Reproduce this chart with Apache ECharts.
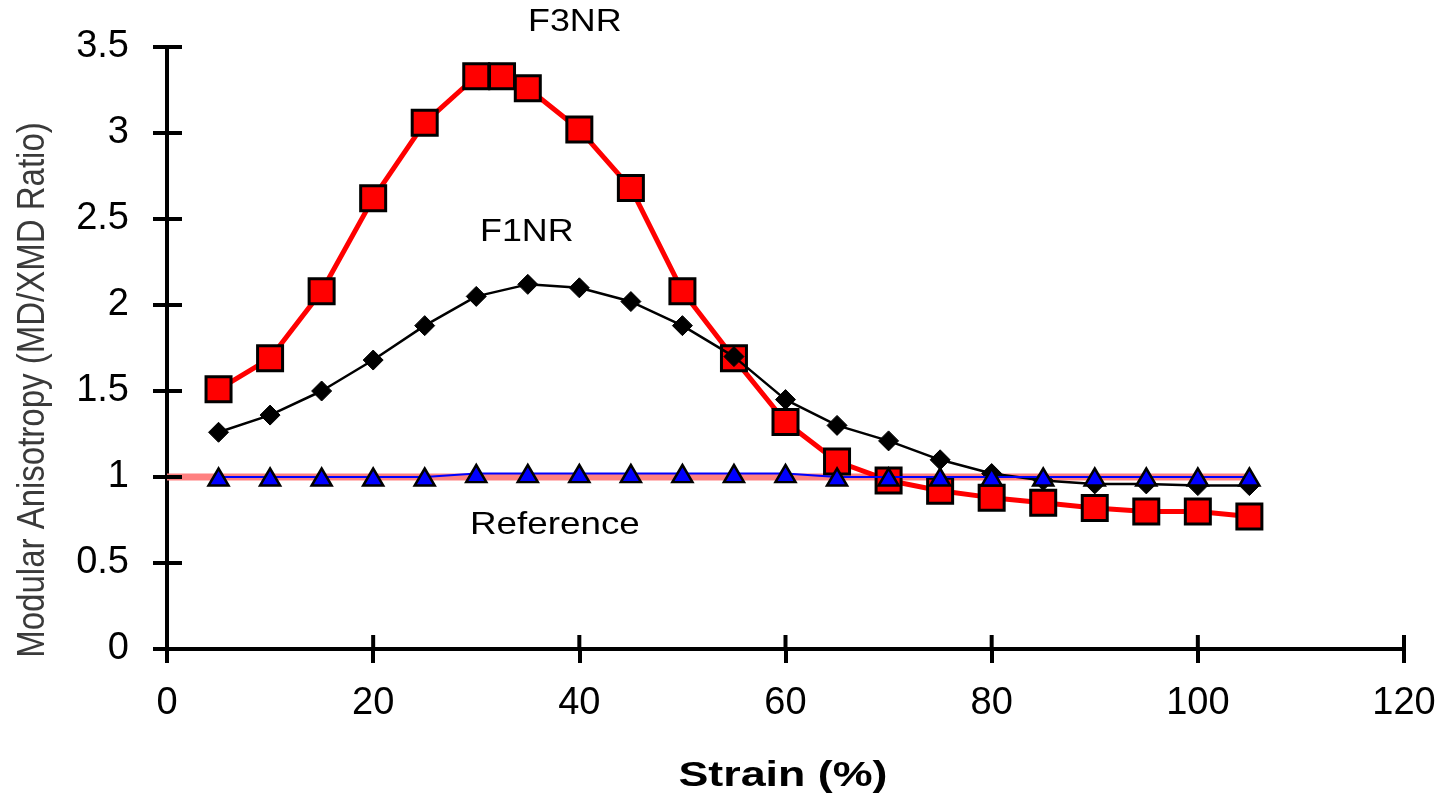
<!DOCTYPE html>
<html><head><meta charset="utf-8">
<script src="https://cdn.jsdelivr.net/npm/echarts@6/dist/echarts.min.js"></script>
<style>html,body{margin:0;padding:0;background:#fff}#c{width:1447px;height:797px}</style>
</head><body><div id="c"></div>
<script>
const strain = [5,10,15,20,25,30,32.5,35,40,45,50,55,60,65,70,75,80,85,90,95,100,105];
const f3nr = [1.51,1.69,2.08,2.62,3.06,3.33,3.33,3.26,3.02,2.68,2.08,1.69,1.32,1.09,0.98,0.92,0.88,0.85,0.82,0.80,0.80,0.77];
const strain2 = [5,10,15,20,25,30,35,40,45,50,55,60,65,70,75,80,85,90,95,100,105];
const f1nr = [1.26,1.36,1.50,1.68,1.88,2.05,2.12,2.10,2.02,1.88,1.70,1.45,1.30,1.21,1.10,1.02,0.98,0.96,0.96,0.95,0.95];
const baseline = [1.00,1.00,1.00,1.00,1.00,1.02,1.02,1.02,1.02,1.02,1.02,1.02,1.00,1.00,1.00,1.00,1.00,1.00,1.00,1.00,1.00];
const refX = [0,105];
const refY = [1,1];
const xTicks = [0,20,40,60,80,100,120];
const yTicks = [0,0.5,1,1.5,2,2.5,3,3.5];
const seriesNames = ['F3NR','F1NR','Reference'];
const xTitle = 'Strain (%)';
const yTitle = 'Modular Anisotropy (MD/XMD Ratio)';

const pairs = (xs, ys) => xs.map((x,i)=>[x, ys[i]]);
const font = 'Liberation Sans, Arial, sans-serif';
const chart = echarts.init(document.getElementById('c'));
const axBase = {
  type:'value', splitLine:{show:false},
  axisLine:{show:true, onZero:false, lineStyle:{color:'#000', width:4}},
  axisTick:{show:true, length:14, lineStyle:{color:'#000', width:4}}
};
chart.setOption({
  animation:false,
  grid:{left:167, top:47, right:43, bottom:148, containLabel:false},
  xAxis:Object.assign({}, axBase, {min:0, max:120, interval:20,
      axisLabel:{fontFamily:font, fontSize:38, color:'#000', margin:36,
        formatter:v=>xTicks.includes(v)?String(v):''}}),
  yAxis:Object.assign({}, axBase, {min:0, max:3.5, interval:0.5,
      axisLabel:{fontFamily:font, fontSize:38, color:'#000', margin:38,
        formatter:v=>yTicks.includes(v)?String(v):''}}),
  series:[
    {name:seriesNames[2], type:'line', data:pairs(refX, refY), showSymbol:false, symbol:'none',
      lineStyle:{color:'#FF8080', width:7}, z:1},
    {name:seriesNames[0], type:'line', data:pairs(strain, f3nr), symbol:'rect', symbolSize:25,
      itemStyle:{color:'#FF0000', borderColor:'#000', borderWidth:3},
      lineStyle:{color:'#FF0000', width:5}, z:2},
    {name:seriesNames[1], type:'line', data:pairs(strain2, f1nr), symbol:'diamond', symbolSize:[20,20],
      itemStyle:{color:'#000', borderColor:'#000', borderWidth:1},
      lineStyle:{color:'#000', width:2.5}, z:3},
    {name:'baseline', type:'line', data:pairs(strain2, baseline), symbol:'triangle', symbolSize:[20,17],
      itemStyle:{color:'#0000FF', borderColor:'#000', borderWidth:2.5},
      lineStyle:{color:'#0000FF', width:2}, z:4}
  ]
});

// inward halves of the crossing tick marks, placed through the library's scales
const g = [];
xTicks.forEach(v=>{
  const p = chart.convertToPixel({gridIndex:0}, [v, 0]);
  g.push({type:'line', shape:{x1:p[0], y1:p[1], x2:p[0], y2:p[1]-14}, style:{stroke:'#000', lineWidth:4}, z:50});
});
yTicks.forEach(v=>{
  const p = chart.convertToPixel({gridIndex:0}, [0, v]);
  g.push({type:'line', shape:{x1:p[0], y1:p[1], x2:p[0]+15, y2:p[1]}, style:{stroke:'#000', lineWidth:4}, z:50});
});
g.push({type:'text', x:528, y:6, scaleX:1.12, style:{text:seriesNames[0], font:'32px '+font, fill:'#000'}, z:60});
g.push({type:'text', x:480, y:216, scaleX:1.12, style:{text:seriesNames[1], font:'32px '+font, fill:'#000'}, z:60});
g.push({type:'text', x:470, y:509, scaleX:1.15, style:{text:seriesNames[2], font:'32px '+font, fill:'#000'}, z:60});
g.push({type:'text', x:783, y:776, scaleX:1.28, style:{text:xTitle, font:'bold 35px '+font, fill:'#000', textAlign:'center', textVerticalAlign:'middle'}, z:60});
g.push({type:'text', x:33, y:390, rotation:Math.PI/2, scaleY:1.18, style:{text:yTitle, font:'33px '+font, fill:'#3a3a3a', textAlign:'center', textVerticalAlign:'middle'}, z:60});
chart.setOption({graphic:g});
</script></body></html>
